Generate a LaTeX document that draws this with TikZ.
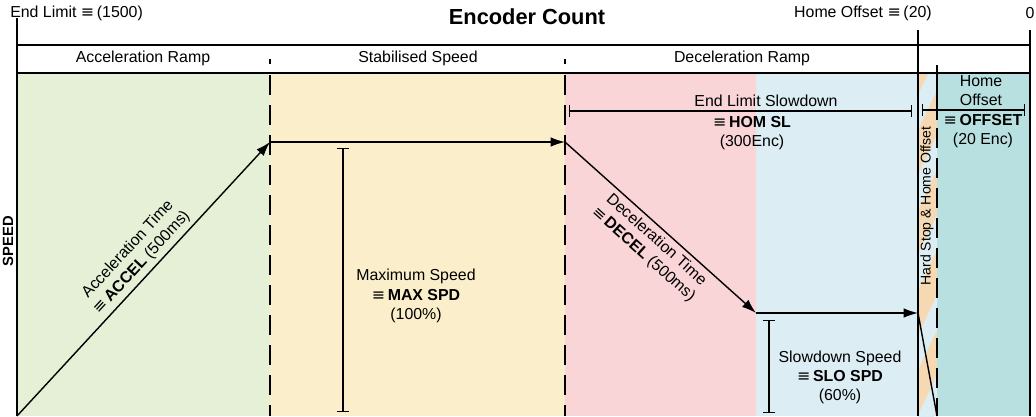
\documentclass[tikz,border=0pt]{standalone}
\usepackage{fontspec}
\setmainfont{Liberation Sans}
\newfontfamily\symfont{DejaVu Sans}
\newcommand\eqv{{\symfont ≡}\,}
\usetikzlibrary{arrows.meta}

\definecolor{rampgreen}{HTML}{E5F0D7}
\definecolor{stabyellow}{HTML}{FBEFCB}
\definecolor{decpink}{HTML}{F9D5D8}
\definecolor{slowblue}{HTML}{DCEEF4}
\definecolor{stoppeach}{HTML}{F6D9B2}
\definecolor{hometeal}{HTML}{B9E0E0}

\begin{document}
\begin{tikzpicture}[x=0.025cm, y=-0.025cm,
  lbl/.style={font=\fontsize{11.3}{13.6}\selectfont, inner sep=0pt, align=center},
  flow/.style={-{Latex[length=3.6mm, width=2.4mm]}, line width=1pt},
  span/.style={{Bar[width=3mm]}-{Bar[width=3mm]}, line width=1pt},
  sep/.style={dash pattern=on 0.5cm off 0.25cm, line width=1pt}]
  \useasboundingbox (0,0) rectangle (1036,416);

  % Zones
  \fill[rampgreen]  (17,73)  rectangle (270,416);
  \fill[stabyellow] (270,73) rectangle (565,416);
  \fill[decpink]    (565,73) rectangle (756,416);
  \fill[slowblue]   (756,73) rectangle (918,416);
  \fill[hometeal]   (937,73) rectangle (1030,416);
  \fill[stoppeach]  (918,73) rectangle (937,416);
  \begin{scope}
    \clip (918,73) rectangle (937,416);
    \foreach \yy in {95,175,255,335,415}
      \fill[slowblue] (918,\yy) -- (937,\yy-40) -- (937,\yy-5) -- (918,\yy+35) -- cycle;
  \end{scope}

  % Frame
  \draw[line width=1pt] (17,18) -- (17,416);
  \draw[line width=1pt] (17,45) -- (1030,45);
  \draw[line width=1pt] (17,73) -- (1030,73);
  \draw[line width=1pt] (918,30) -- (918,416);
  \draw[line width=1pt] (1030,30) -- (1030,416);
  \draw[line width=1pt] (270,59) -- (270,64);
  \draw[line width=1pt] (565,59) -- (565,64);
  \draw[sep] (270,75) -- (270,416);
  \draw[sep] (565,75) -- (565,416);
  \draw[line width=1pt] (937,65) -- (937,120);
  \draw[sep] (937,128) -- (937,416);

  % Nodes
  \node[lbl, anchor=west] (endlim) at (10,13) {End Limit \eqv(1500)};
  \node[lbl, font=\fontsize{15.5}{18}\selectfont\bfseries] (enccount) at (527,17) {Encoder Count};
  \node[lbl, anchor=east] (homeoff) at (932,13) {Home Offset \eqv(20)};
  \node[lbl] (zero) at (1030,13) {0};
  \node[lbl] (accramp) at (143,58) {Acceleration Ramp};
  \node[lbl] (stabspd) at (418,58) {Stabilised Speed};
  \node[lbl] (decramp) at (742,58) {Deceleration Ramp};
  \node[lbl, font=\fontsize{10.5}{12}\selectfont\bfseries, rotate=90] (speed) at (8,241) {SPEED};
  \node[lbl] (maxspd) at (416,296) {Maximum Speed\\\eqv\textbf{MAX SPD}\\(100\%)};
  \node[lbl] (slospd) at (840,377) {Slowdown Speed\\\eqv\textbf{SLO SPD}\\(60\%)};
  \node[lbl] (homsltxt) at (766,101) {End Limit Slowdown};
  \node[lbl] (homsl) at (752,133) {\eqv\textbf{HOM SL}\\(300Enc)};
  \node[lbl] (offtxt) at (981,91) {Home\\Offset};
  \node[lbl] (offset) at (983,131) {\eqv\textbf{OFFSET}\\(20 Enc)};
  \node[lbl, font=\fontsize{10}{12}\selectfont, rotate=90] (hardstop) at (927,206) {Hard Stop \& Home Offset};

  \coordinate (p0) at (17,416);
  \coordinate (p1) at (270,142);
  \coordinate (p2) at (565,142);
  \coordinate (p3) at (756,313);
  \coordinate (p4) at (918,313);
  \coordinate (p5) at (937,416);
  \coordinate (mtop) at (343,148);
  \coordinate (mbot) at (343,412);
  \coordinate (stop) at (769,320);
  \coordinate (sbot) at (769,413);
  \coordinate (hsl) at (569,111);
  \coordinate (hsr) at (912,111);
  \coordinate (hol) at (922,110);
  \coordinate (hor) at (1025,110);

  % Edges
  \draw[flow] (p0) -- node[lbl, sloped, above=3pt, pos=0.53] {Acceleration Time\\\eqv\textbf{ACCEL} (500ms)} (p1);
  \draw[flow] (p1) -- (p2);
  \draw[flow] (p2) -- node[lbl, sloped, below=3pt, pos=0.52] {Deceleration Time\\\eqv\textbf{DECEL} (500ms)} (p3);
  \draw[flow] (p3) -- (p4);
  \draw[line width=1pt] (p4) -- (p5);
  \draw[span] (mtop) -- (mbot);
  \draw[span] (stop) -- (sbot);
  \draw[span] (hsl) -- (hsr);
  \draw[span] (hol) -- (hor);
\end{tikzpicture}
\end{document}
